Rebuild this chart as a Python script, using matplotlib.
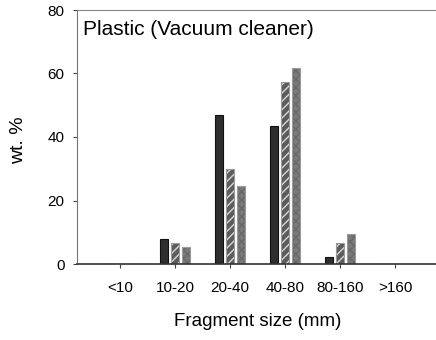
import matplotlib
matplotlib.use('Agg')
import matplotlib.pyplot as plt
import numpy as np

plt.rcParams['font.family'] = ['Liberation Sans', 'DejaVu Sans']
plt.rcParams['hatch.linewidth'] = 1.0

# data
sizes = ['<10', '10-20', '20-40', '40-80', '80-160', '>160']
s1 = [0, 7.8, 47.0, 43.6, 2.3, 0]
s2 = [0, 6.6, 29.8, 57.3, 6.6, 0]
s3 = [0, 5.2, 24.6, 61.6, 9.6, 0]

x = np.arange(len(sizes))
w = 0.135
d = 0.2

fig = plt.figure(figsize=(4.36, 3.4), dpi=100)
ax = fig.add_axes([77/436, 76/340, 361/436, 254/340])

# black bars
ax.bar(x - d, s1, w, color='#2e2e2e', edgecolor='#111111', linewidth=0.8)
# hatched bars: fill+hatch, then outline
ax.bar(x, s2, w, color='#5c5c5c', edgecolor='#d8d8d8', hatch='////', linewidth=0)
ax.bar(x, s2, w, fill=False, edgecolor='#9a9a9a', linewidth=0.8)
# cross hatched bars
ax.bar(x + d, s3, w, color='#7a7a7a', edgecolor='#686868', hatch='xxxx', linewidth=0)
ax.bar(x + d, s3, w, fill=False, edgecolor='#9a9a9a', linewidth=0.8)

ax.set_xlim(-0.78, 5.78)
ax.set_ylim(0, 80)
ax.set_yticks([0, 20, 40, 60, 80])
ax.set_xticks(x)
ax.set_xticklabels(sizes)
ax.tick_params(axis='both', labelsize=11, length=3, width=0.8, color='#444444')
ax.tick_params(axis='x', pad=9)
ax.tick_params(axis='y', pad=6)

ax.spines['left'].set_color('#777777')
ax.spines['top'].set_color('#888888')
ax.spines['bottom'].set_color('#333333')
ax.spines['bottom'].set_linewidth(1.2)
ax.spines['right'].set_visible(False)

ax.text(0.017, 0.902, 'Plastic (Vacuum cleaner)', transform=ax.transAxes,
        fontsize=15, va='baseline', ha='left')
fig.text(19/436, 1 - 140/340, 'wt. %', rotation=90, fontsize=14,
         ha='center', va='center')
fig.text(258/436, 1 - 321/340, 'Fragment size (mm)', fontsize=13.5,
         ha='center', va='center')

plt.savefig('out.png', dpi=100)
